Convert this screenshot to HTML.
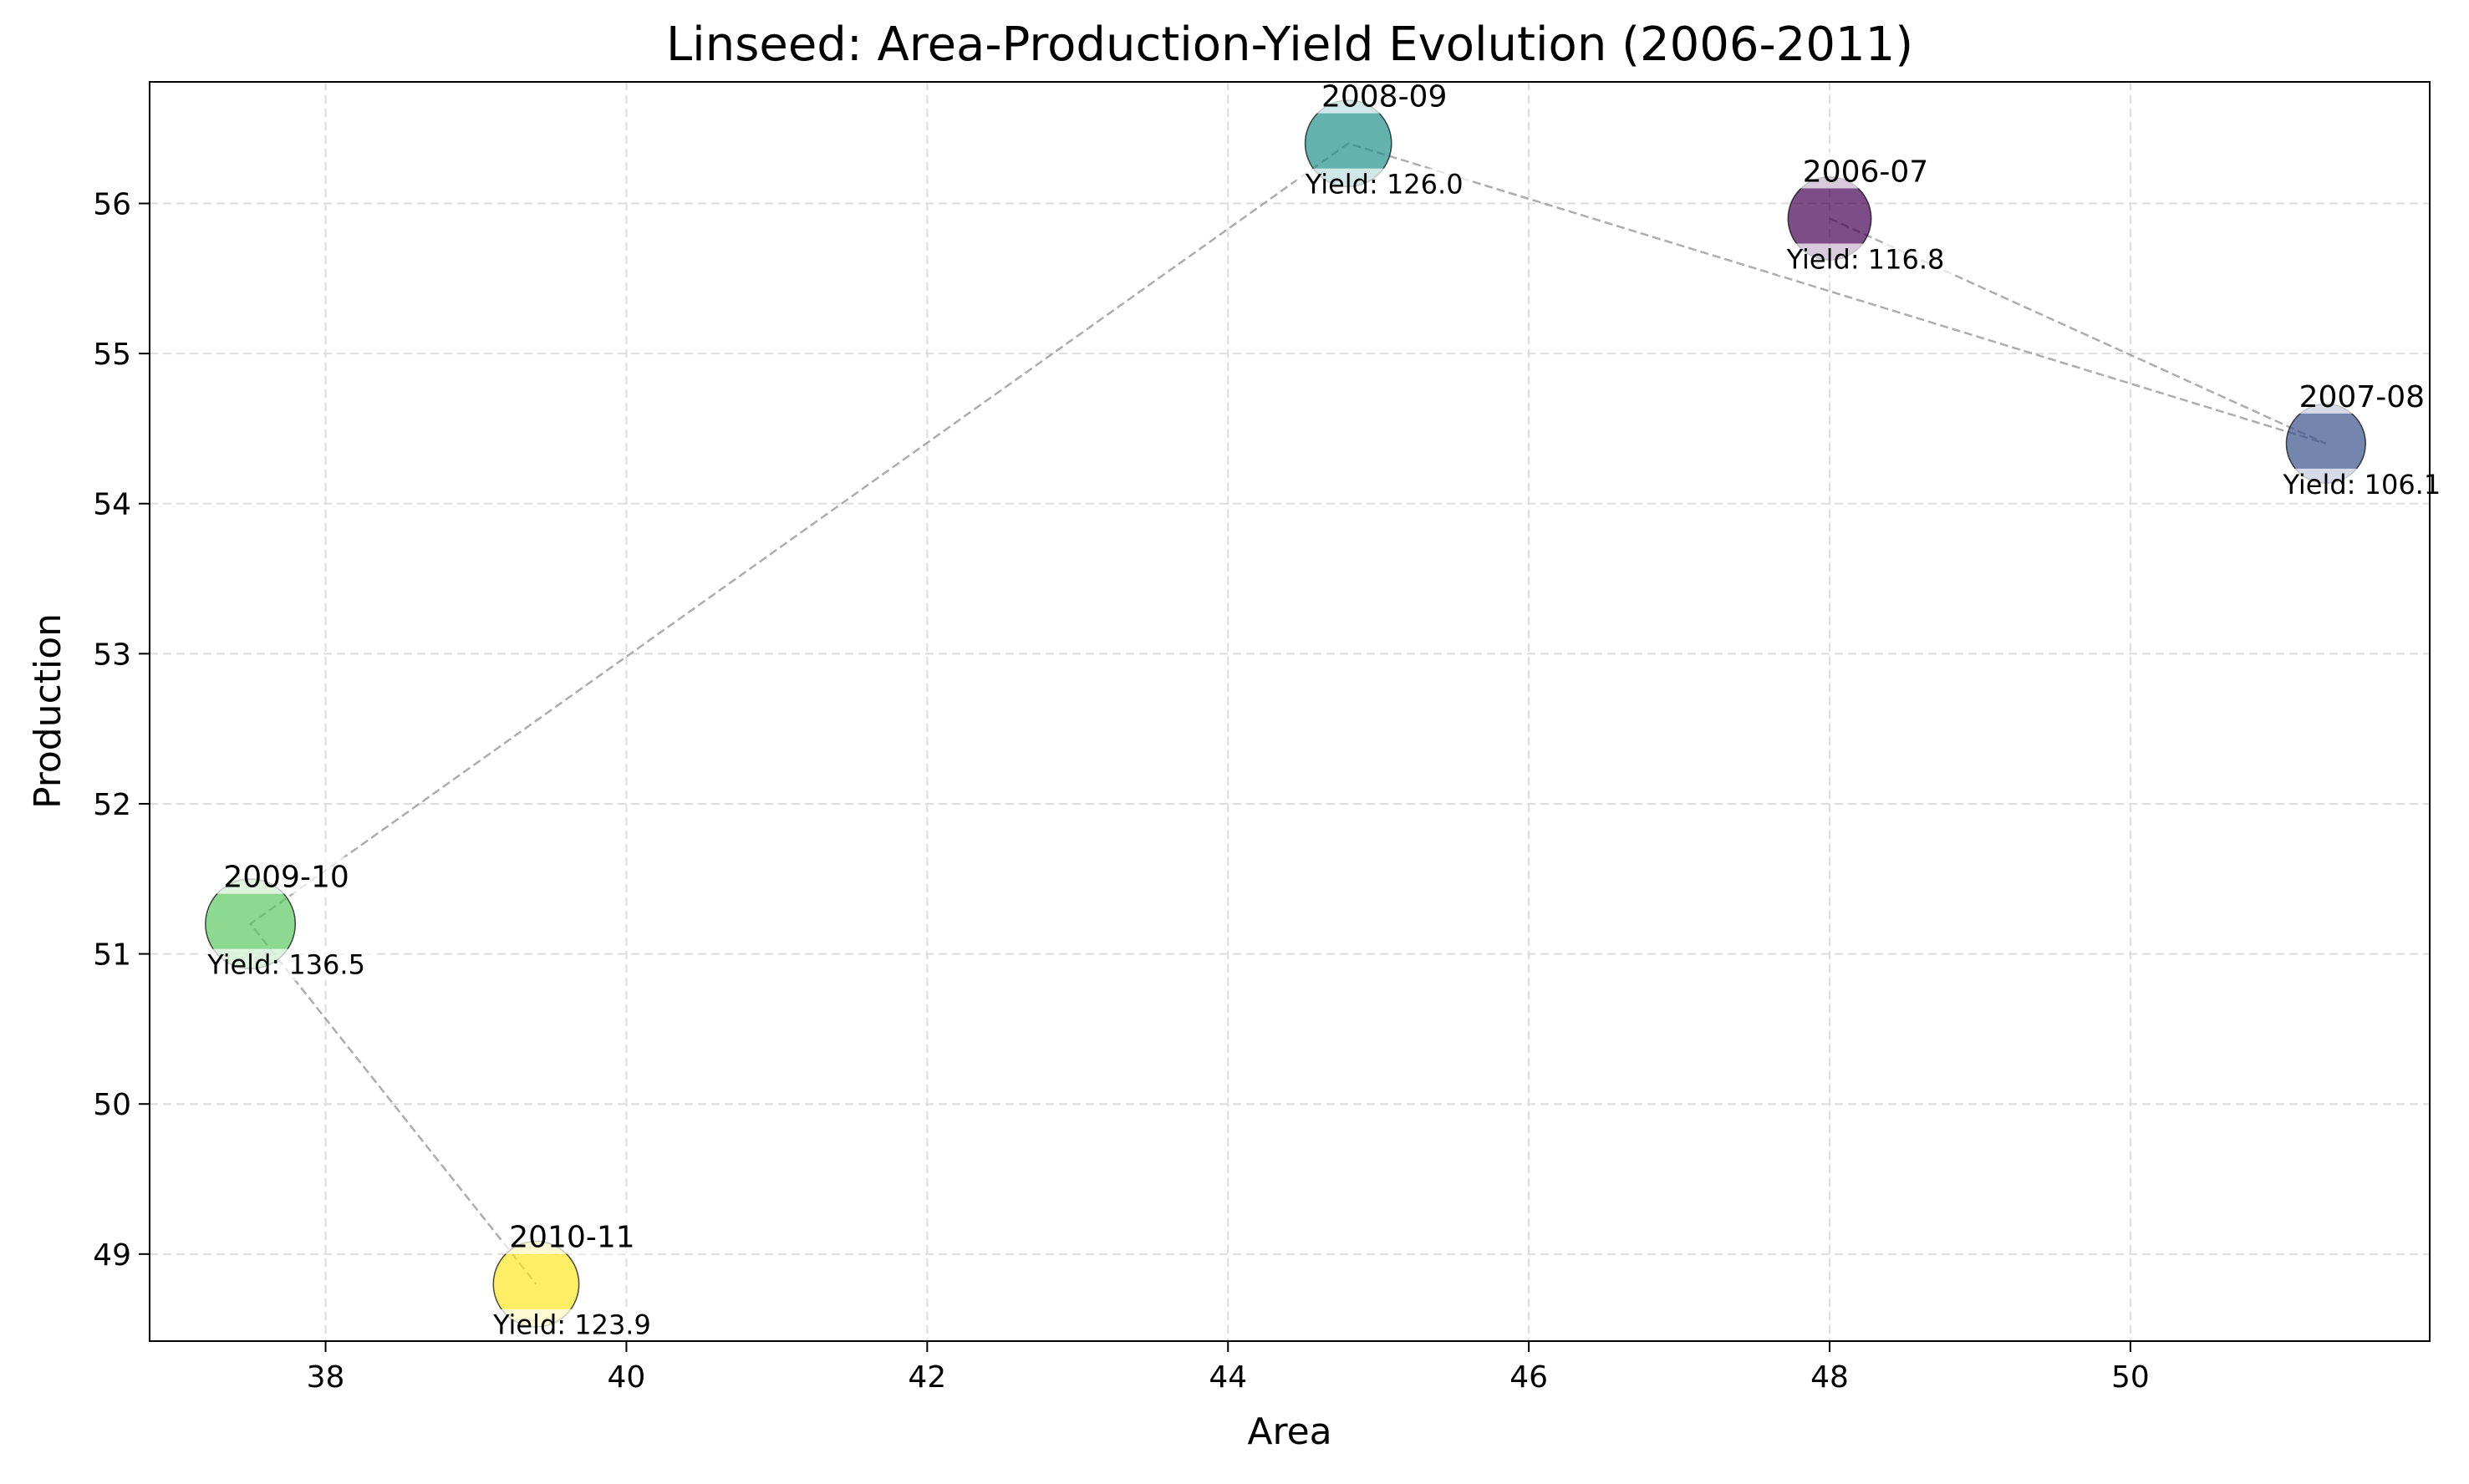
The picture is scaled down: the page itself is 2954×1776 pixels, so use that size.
<!DOCTYPE html>
<html><head><meta charset="utf-8"><style>
html,body{margin:0;padding:0;background:#fff;}
svg text{font-family:"DejaVu Sans","Liberation Sans",sans-serif;}
</style></head><body>
<svg id="chart" width="2954" height="1771" viewBox="0 0 2954 1771" xmlns="http://www.w3.org/2000/svg">
<rect width="2954" height="1771" fill="#fff"/>
<text x="1543" y="72" font-size="56" text-anchor="middle">Linseed: Area-Production-Yield Evolution (2006-2011)</text>
<g id="grid"></g>
<g id="lines"></g>
<g id="bubbles"></g>
<g id="labels"></g>
<rect x="179" y="98" width="2728" height="1507" fill="none" stroke="#000" stroke-width="2"/>
<g id="axes"></g>
<text x="1543" y="1728" font-size="44" text-anchor="middle">Area</text>
<text x="0" y="0" font-size="44" text-anchor="middle" transform="translate(72,851) rotate(-90)">Production</text>
</svg>
<script>
const seasons = ["2006-07","2007-08","2008-09","2009-10","2010-11"];
const areaValues = [48.0, 51.3, 44.8, 37.5, 39.4];
const productionValues = [55.9, 54.4, 56.4, 51.2, 48.8];
const yieldValues = [116.8, 106.1, 126.0, 136.5, 123.9];
const xTicks = [38,40,42,44,46,48,50];
const yTicks = [49,50,51,52,53,54,55,56];
const colors = ["#440154","#3b528b","#21918c","#5ec962","#fde725"];

const L=179,R=2907,T=98,B=1605, xMin=36.83,xMax=51.99,yMin=48.42,yMax=56.81;
const xs=v=>L+(v-xMin)/(xMax-xMin)*(R-L);
const ys=v=>B-(v-yMin)/(yMax-yMin)*(B-T);
const NS="http://www.w3.org/2000/svg";
function mk(tag,attrs,parent){const e=document.createElementNS(NS,tag);for(const k in attrs)e.setAttribute(k,attrs[k]);parent.appendChild(e);return e;}
const grid=document.getElementById('grid'),axes=document.getElementById('axes');
xTicks.forEach(t=>{const x=xs(t);
 const g=mk('line',{x1:x,x2:x,y1:T,y2:B,stroke:'#ddd','stroke-width':2,'stroke-dasharray':'10,6'},grid);
 
 
 const tk=mk('line',{x1:x,x2:x,y1:B,y2:B+13,stroke:'#000','stroke-width':2},axes);
 
 
 const tx=mk('text',{x:x,y:B+55,'font-size':36,'text-anchor':'middle'},axes);tx.textContent=t;
 
 
});
yTicks.forEach(t=>{const y=ys(t);
 const g=mk('line',{x1:L,x2:R,y1:y,y2:y,stroke:'#ddd','stroke-width':2,'stroke-dasharray':'10,6'},grid);
 
 
 const tk=mk('line',{x1:L-13,x2:L,y1:y,y2:y,stroke:'#000','stroke-width':2},axes);
 
 
 const tx=mk('text',{x:L-22,y:y+13,'font-size':36,'text-anchor':'end'},axes);tx.textContent=t;
 
 
});
const pts=areaValues.map((a,i)=>[xs(a),ys(productionValues[i])]).map(p=>p.join(',')).join(' ');
const pl=mk('polyline',{points:pts,fill:'none',stroke:'#999','stroke-opacity':0.8,'stroke-width':2.5,'stroke-dasharray':'10,5'},document.getElementById('lines'));


const bub=document.getElementById('bubbles'),lab=document.getElementById('labels');
seasons.forEach((s,i)=>{const cx=xs(areaValues[i]),cy=ys(productionValues[i]);
 const r=4.6*Math.sqrt(yieldValues[i]);
 const c=mk('circle',{cx:cx,cy:cy,r:r,fill:colors[i],'fill-opacity':0.7,stroke:'#000','stroke-opacity':0.7,'stroke-width':1.5},bub);
 
 
 const bx1=mk('rect',{x:cx-40,y:cy-80,width:166,height:44,fill:'#fff','fill-opacity':0.7},lab);
 
 
 const t1=mk('text',{x:cx+43,y:cy-44,'font-size':36,'text-anchor':'middle'},lab);t1.textContent=s;
 
 
 const bx2=mk('rect',{x:cx-62,y:cy+30,width:210,height:38,fill:'#fff','fill-opacity':0.7},lab);
 
 
 const t2=mk('text',{x:cx+43,y:cy+60,'font-size':32,'text-anchor':'middle'},lab);t2.textContent='Yield: '+yieldValues[i].toFixed(1);
 
 
});
</script>
</body></html>
